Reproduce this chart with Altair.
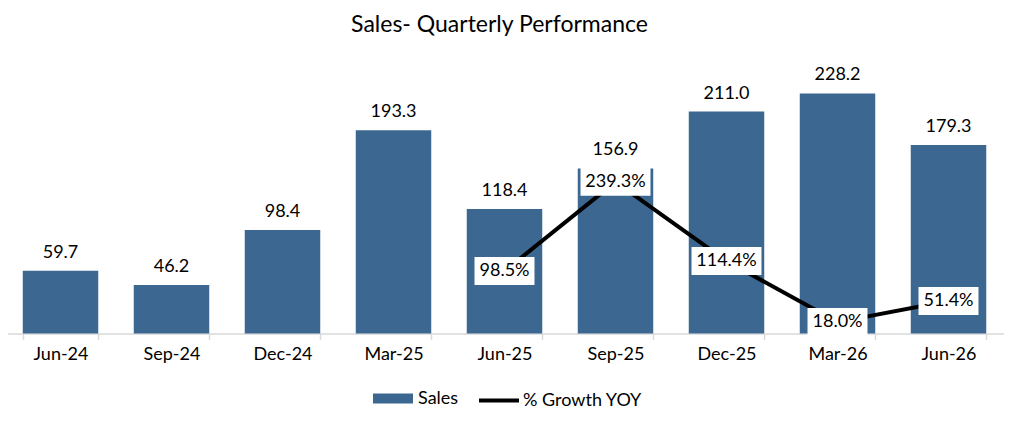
import altair as alt
import pandas as pd

quarters = ["Jun-24", "Sep-24", "Dec-24", "Mar-25", "Jun-25", "Sep-25", "Dec-25", "Mar-26", "Jun-26"]
sales = [59.7, 46.2, 98.4, 193.3, 118.4, 156.9, 211.0, 228.2, 179.3]
growth = [None, None, None, None, 98.5, 239.3, 114.4, 18.0, 51.4]

df = pd.DataFrame({"quarter": quarters, "sales": sales, "growth": growth})

BLUE = "#3C6791"
FONT = "Lato"
FS = 18

x = alt.X(
    "quarter:N",
    sort=quarters,
    scale=alt.Scale(paddingInner=0.32, paddingOuter=0.16),
    axis=alt.Axis(
        title=None, labelAngle=0, labelFontSize=FS, labelColor="black", labelFont=FONT,
        domainColor="#D9D9D9", domainWidth=1.5, tickColor="#D9D9D9", tickWidth=1.5,
        tickSize=6, tickBand="extent", labelPadding=6, grid=False,
    ),
)
y_sales = alt.Y("sales:Q", scale=alt.Scale(domain=[0, 250]), axis=None)
y_growth = alt.Y("growth:Q", scale=alt.Scale(domain=[0, 415]), axis=None)

base = alt.Chart(df)

bars = base.transform_calculate(series="'Sales'").mark_bar().encode(
    x=x,
    y=y_sales,
    fill=alt.Fill(
        "series:N",
        scale=alt.Scale(domain=["Sales"], range=[BLUE]),
        legend=alt.Legend(
            orient="none", legendX=368, legendY=308, title=None,
            symbolType="M-1,-0.25L1,-0.25L1,0.25L-1,0.25Z", symbolSize=1600,
            symbolStrokeWidth=0, labelFontSize=FS, labelFont=FONT, labelColor="black",
            padding=0, labelOffset=5,
        ),
    ),
)

bar_labels = base.mark_text(
    dy=-13, baseline="alphabetic", fontSize=FS, font=FONT, color="black"
).encode(x=x, y=y_sales, text=alt.Text("sales:Q", format=".1f"))

gdf = base.transform_filter("isValid(datum.growth)").transform_calculate(
    series2="'% Growth YOY'",
    label="format(datum.growth, '.1f') + '%'",
    box="length(format(datum.growth, '.1f')) > 4 ? 'long' : 'short'",
)

line = gdf.mark_line(strokeWidth=4, strokeCap="round", strokeJoin="round").encode(
    x=x,
    y=y_growth,
    stroke=alt.Stroke(
        "series2:N",
        scale=alt.Scale(domain=["% Growth YOY"], range=["black"]),
        legend=alt.Legend(
            orient="none", legendX=472, legendY=308, title=None,
            symbolType="stroke", symbolSize=1600, symbolStrokeWidth=4,
            labelFontSize=FS, labelFont=FONT, labelColor="black",
            padding=0, labelOffset=2,
        ),
    ),
)

SHORT = "M-0.833,-0.389L0.833,-0.389L0.833,0.389L-0.833,0.389Z"
LONG = "M-0.972,-0.389L0.972,-0.389L0.972,0.389L-0.972,0.389Z"

boxes = gdf.mark_point(filled=True, color="white", opacity=1, size=5184, strokeWidth=0).encode(
    x=x,
    y=y_growth,
    shape=alt.Shape("box:N", scale=alt.Scale(domain=["short", "long"], range=[SHORT, LONG]), legend=None),
)

box_labels = gdf.mark_text(fontSize=FS, font=FONT, color="black", baseline="middle").encode(
    x=x, y=y_growth, text="label:N"
)

left = alt.layer(bars, bar_labels)
right = alt.layer(line, boxes, box_labels)

chart = (
    alt.layer(left, right)
    .resolve_scale(y="independent", shape="independent")
    .properties(
        width=999,
        height=263,
        title=alt.Title(
            "Sales- Quarterly Performance", fontSize=23, font=FONT, color="black",
            fontWeight="normal", anchor="middle", offset=29, dx=-5,
        ),
        padding={"top": 62.5, "left": -3, "right": 0, "bottom": 90},
        autosize=alt.AutoSizeParams(type="none"),
    )
    .configure_view(stroke=None)
)

chart.save("out.html", embed_options={"renderer": "svg", "actions": False})
